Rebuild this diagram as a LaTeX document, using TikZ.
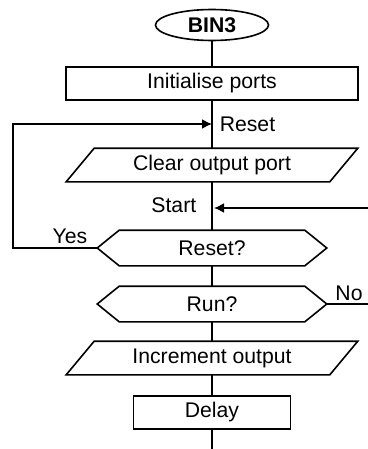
\documentclass[tikz,border=0pt]{standalone}
\usepackage{fontspec}
\setmainfont{Liberation Sans}
\usetikzlibrary{shapes.geometric,arrows.meta}
\begin{document}
\begin{tikzpicture}[x=0.5pt,y=-0.5pt, line width=0.8pt,
  every node/.style={font=\fontsize{10.6}{12}\selectfont, inner sep=0pt},
  procbox/.style={draw, rectangle, minimum height=16.5pt},
  iobox/.style={rectangle, minimum width=131pt, minimum height=16pt,
    append after command={\pgfextra{\draw ([xshift=7pt]\tikzlastnode.north west) -- ([xshift=7pt]\tikzlastnode.north east) -- ([xshift=-7pt]\tikzlastnode.south east) -- ([xshift=-7pt]\tikzlastnode.south west) -- cycle;}}},
  decbox/.style={rectangle, minimum width=92pt, minimum height=17pt,
    append after command={\pgfextra{\draw (\tikzlastnode.north west) -- (\tikzlastnode.north east) -- ([xshift=11pt]\tikzlastnode.east) -- (\tikzlastnode.south east) -- (\tikzlastnode.south west) -- ([xshift=-11pt]\tikzlastnode.west) -- cycle;}}},
  termbox/.style={draw, ellipse, minimum width=56.5pt, minimum height=15.5pt, font=\bfseries\fontsize{10.6}{12}\selectfont},
  arr/.style={-{Latex[length=5pt,width=5pt]}}
]
\useasboundingbox (0,0) rectangle (368,449);
\node[termbox] (bin) at (212,25) {BIN3};
\node[procbox, minimum width=146pt] (init) at (212,83.5) {Initialise ports};
\coordinate (rj) at (212,124);
\node[anchor=west] (resetl) at (219,124) {Reset};
\node[iobox] (clear) at (212,165) {Clear output port};
\coordinate (sj) at (214,208);
\coordinate (sin) at (368,208);
\node[anchor=east] (startl) at (197,205) {Start};
\node[decbox] (rq) at (212,248) {Reset?};
\node (yes) at (70,236) {Yes};
\coordinate (yl) at (13,248);
\coordinate (yt) at (13,124);
\node[decbox] (run) at (212,304) {Run?};
\node (no) at (349,293) {No};
\coordinate (nr) at (368,304);
\node[iobox] (inc) at (212,358) {Increment output};
\node[procbox, minimum width=78.5pt] (delay) at (212,412.5) {Delay};
\coordinate (end) at (212,449);
\draw (bin) -- (init);
\draw (init) -- (clear);
\draw (clear) -- (rq);
\draw (rq) -- (run);
\draw (run) -- (inc);
\draw (inc) -- (delay);
\draw (delay) -- (end);
\draw[arr] ([xshift=-11pt]rq.west) -- (yl) -- (yt) -- (rj);
\draw[arr] (sin) -- (sj);
\draw ([xshift=11pt]run.east) -- (nr);
\end{tikzpicture}
\end{document}
